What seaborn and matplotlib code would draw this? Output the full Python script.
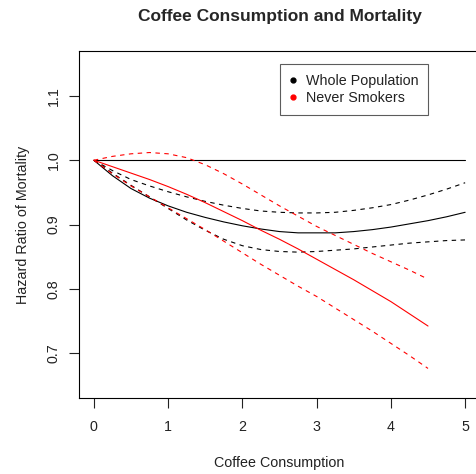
import matplotlib
matplotlib.use('Agg')
import numpy as np
import pandas as pd
import seaborn as sns
import matplotlib.pyplot as plt
from matplotlib.lines import Line2D

## coffee consumption grid and hazard ratios
x_all   = [0, 0.25, 0.5, 0.75, 1, 1.25, 1.5, 1.75, 2, 2.25, 2.5,
           2.75, 3, 3.25, 3.5, 3.75, 4, 4.25, 4.5, 4.75, 5]
whole   = [1.000, 0.976, 0.956, 0.941, 0.929, 0.919, 0.911, 0.904, 0.898, 0.893, 0.889,
           0.887, 0.887, 0.887, 0.889, 0.892, 0.896, 0.901, 0.906, 0.912, 0.919]
whole_u = [1.000, 0.984, 0.970, 0.960, 0.951, 0.943, 0.936, 0.930, 0.925, 0.921, 0.919,
           0.918, 0.918, 0.919, 0.922, 0.926, 0.931, 0.938, 0.946, 0.955, 0.965]
whole_l = [1.000, 0.980, 0.961, 0.943, 0.925, 0.907, 0.891, 0.877, 0.867, 0.861, 0.858,
           0.857, 0.858, 0.860, 0.862, 0.865, 0.868, 0.871, 0.873, 0.875, 0.876]

x_never = [0, 0.25, 0.5, 0.75, 1, 1.25, 1.5, 1.75, 2, 2.25, 2.5,
           2.75, 3, 3.25, 3.5, 3.75, 4, 4.25, 4.5]
never   = [1.000, 0.990, 0.980, 0.970, 0.959, 0.947, 0.934, 0.920, 0.906, 0.891, 0.877,
           0.862, 0.846, 0.830, 0.814, 0.797, 0.780, 0.761, 0.742]
never_u = [1.000, 1.006, 1.010, 1.012, 1.010, 1.004, 0.993, 0.979, 0.963, 0.946, 0.929,
           0.913, 0.897, 0.883, 0.869, 0.855, 0.842, 0.829, 0.815]
never_l = [1.000, 0.979, 0.960, 0.943, 0.926, 0.909, 0.892, 0.874, 0.856, 0.838, 0.821,
           0.804, 0.788, 0.770, 0.752, 0.734, 0.715, 0.696, 0.676]

ref_x = [0, 5]
ref_y = [1.0, 1.0]

sns.set_style('white')
plt.rcParams['font.family'] = ['Liberation Sans', 'DejaVu Sans']

fig = plt.figure(figsize=(4.76, 4.74), dpi=100)
ax = fig.add_axes([79/476, 1-398/474, 401/476, 347/474])

lw = 0.8
dash = (0, (4, 4))
sns.lineplot(x=ref_x, y=ref_y, ax=ax, color='black', lw=lw)
sns.lineplot(x=x_all, y=whole, ax=ax, color='black', lw=lw)
sns.lineplot(x=x_all, y=whole_u, ax=ax, color='black', lw=lw, linestyle=dash)
sns.lineplot(x=x_all, y=whole_l, ax=ax, color='black', lw=lw, linestyle=dash)
sns.lineplot(x=x_never, y=never, ax=ax, color='red', lw=lw)
sns.lineplot(x=x_never, y=never_u, ax=ax, color='red', lw=lw, linestyle=dash)
sns.lineplot(x=x_never, y=never_l, ax=ax, color='red', lw=lw, linestyle=dash)

ax.set_xlim(-0.2, 5.2)
ax.set_ylim(0.630, 1.170)
ax.set_xticks([0, 1, 2, 3, 4, 5])
ax.set_yticks([0.7, 0.8, 0.9, 1.0, 1.1])
ax.set_yticklabels(['0.7', '0.8', '0.9', '1.0', '1.1'], rotation=90, va='center')
ax.tick_params(axis='both', direction='out', length=7, width=0.8, labelsize=10.3,
               colors='#222222', pad=6, bottom=True, left=True)
ax.tick_params(axis='x', pad=8.5)
for s in ax.spines.values():
  s.set_color('black')
  s.set_linewidth(0.8)

ax.set_xlabel('Coffee Consumption', fontsize=10.3, color='#222222', labelpad=16.5)
ax.set_ylabel('Hazard Ratio of Mortality', fontsize=10.3, color='#222222', labelpad=12)
fig.text(279.5/476, 1-17/474, 'Coffee Consumption and Mortality', ha='center', va='center',
         fontsize=12.5, fontweight='bold')

handles = [Line2D([], [], ls='', marker='o', ms=3.5, color='black'),
           Line2D([], [], ls='', marker='o', ms=3.5, color='red')]
leg = ax.legend(handles, ['Whole Population', 'Never Smokers'], loc='upper left',
                bbox_to_anchor=((280-79)/401, (398-64)/347), fontsize=10.3,
                frameon=True, fancybox=False, shadow=False, borderpad=0.7,
                handlelength=0.35, handletextpad=0.75, labelspacing=0.2, borderaxespad=0)
leg.get_frame().set_edgecolor('#333333')
leg.get_frame().set_linewidth(0.8)
for t in leg.get_texts():
  t.set_color('#222222')

fig.savefig('out.png', dpi=100)
